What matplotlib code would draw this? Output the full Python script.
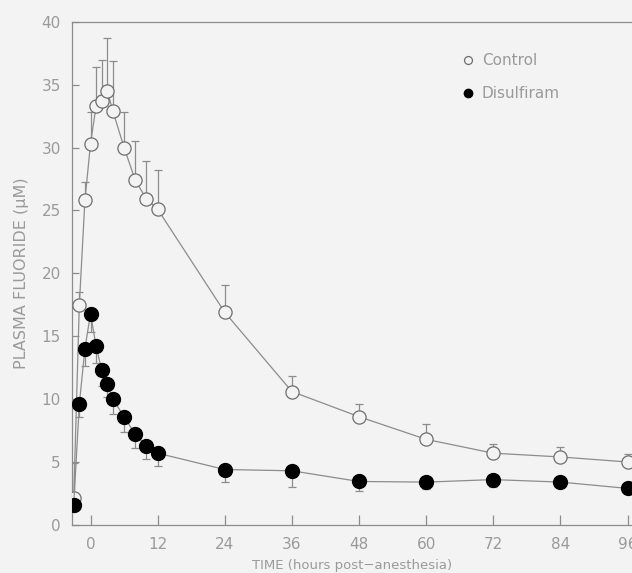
import matplotlib
matplotlib.use("Agg")
import matplotlib.pyplot as plt

# hours relative to end of anesthesia
TIME = [-3, -2, -1, 0, 1, 2, 3, 4, 6, 8, 10, 12, 24, 36, 48, 60, 72, 84, 96]

CONTROL = [2.1, 17.5, 25.8, 30.3, 33.3, 33.7, 34.5, 32.9, 30.0, 27.4, 25.9, 25.1,
           16.9, 10.6, 8.6, 6.8, 5.7, 5.4, 5.0]
CONTROL_ERR = [2.8, 1.0, 1.5, 2.5, 3.1, 3.3, 4.2, 4.0, 2.8, 3.1, 3.0, 3.1,
               2.2, 1.2, 1.0, 1.2, 0.7, 0.8, 0.6]

DISULFIRAM = [1.6, 9.6, 14.0, 16.8, 14.2, 12.3, 11.2, 10.0, 8.6, 7.2, 6.3, 5.7,
              4.4, 4.3, 3.45, 3.4, 3.6, 3.4, 2.9]
DISULFIRAM_ERR = [0.0, 1.0, 1.35, 1.45, 1.35, 1.25, 1.0, 1.15, 1.2, 1.1, 1.1, 1.05,
                  1.0, 1.25, 0.75, 0.55, 0.6, 0.3, 0.3]

X_TICKS = [0, 12, 24, 36, 48, 60, 72, 84, 96]
Y_TICKS = [0, 5, 10, 15, 20, 25, 30, 35, 40]

BG = "#f3f3f3"
GREY = "#9a9a9a"
LINE = "#8c8c8c"

fig = plt.figure(figsize=(6.32, 5.73), dpi=100, facecolor=BG)
ax = fig.add_axes([0.114, 0.084, 0.886, 0.878], facecolor=BG)

# control: open circles, error bars up
ax.errorbar(TIME, CONTROL, yerr=[[0] * len(CONTROL_ERR), CONTROL_ERR],
            fmt="none", ecolor=LINE, elinewidth=0.9, capsize=3, capthick=0.9, zorder=2)
ax.plot(TIME, CONTROL, color=LINE, lw=0.9, marker="o", ms=9.5,
        mfc=BG, mec="#6e6e6e", mew=0.9, zorder=3, label="Control")

# disulfiram: filled circles, error bars down
ax.errorbar(TIME, DISULFIRAM, yerr=[DISULFIRAM_ERR, [0] * len(DISULFIRAM_ERR)],
            fmt="none", ecolor=LINE, elinewidth=0.9, capsize=3, capthick=0.9, zorder=2)
ax.plot(TIME, DISULFIRAM, color=LINE, lw=0.9, marker="o", ms=10,
        mfc="black", mec="black", zorder=4, label="Disulfiram")

ax.set_xlim(-3.3, 96.8)
ax.set_ylim(0, 40)
ax.set_xticks(X_TICKS)
ax.set_yticks(Y_TICKS)

ax.spines["right"].set_visible(False)
for s in ["left", "bottom", "top"]:
    ax.spines[s].set_color(LINE)
    ax.spines[s].set_linewidth(0.9)

ax.tick_params(axis="x", direction="in", length=7, width=0.9, color=LINE,
               labelcolor=GREY, labelsize=11, pad=9)
ax.tick_params(axis="y", direction="in", length=5, width=0.9, color=LINE,
               labelcolor=GREY, labelsize=11, pad=8)

ax.set_xlabel("TIME (hours post\u2212anesthesia)", color=GREY, fontsize=9.5, labelpad=5)
ax.set_ylabel("PLASMA FLUORIDE (\u03bcM)", color=GREY, fontsize=11.5, labelpad=9)

leg = ax.legend(loc="upper left", bbox_to_anchor=(0.669, 0.965), frameon=False,
                fontsize=11, handlelength=1.0, handletextpad=0.4, labelspacing=1.2,
                markerscale=0.6)
for t in leg.get_texts():
    t.set_color(GREY)
for h in leg.legend_handles:
    h.set_linestyle("none")

fig.savefig("out.png", dpi=100, facecolor=BG)
